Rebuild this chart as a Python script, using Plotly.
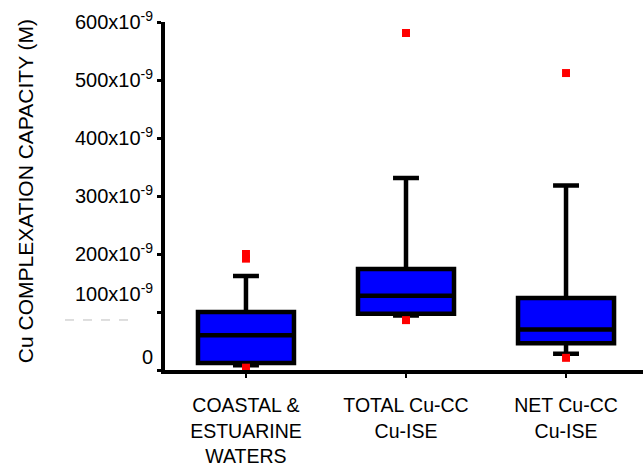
import plotly.graph_objects as go

categories = ["COASTAL &<br>ESTUARINE<br>WATERS", "TOTAL Cu-CC<br>Cu-ISE", "NET Cu-CC<br>Cu-ISE"]
x_pos = [1, 2, 3]
q1 = [12, 97, 46]
median = [60, 128, 70]
q3 = [100, 174, 124]
lower_fence = [8, 94, 28]
upper_fence = [162, 331, 318]
outlier_x = [1, 1, 1, 2, 2, 3, 3]
outlier_y = [192, 200, 4, 581, 86, 512, 21]
ytick_vals = [0, 100, 200, 300, 400, 500, 600]
ytick_text = ["", "", "200x10<sup>-9</sup>", "300x10<sup>-9</sup>", "400x10<sup>-9</sup>",
              "500x10<sup>-9</sup>", "600x10<sup>-9</sup>"]
shifted_labels = [("100x10<sup>-9</sup>", 133), ("0", 22)]

FONT = "Liberation Sans, Arial, sans-serif"

fig = go.Figure()
fig.add_trace(go.Box(
    x=x_pos, q1=q1, median=median, q3=q3,
    lowerfence=lower_fence, upperfence=upper_fence,
    width=0.6, whiskerwidth=0.27,
    fillcolor="rgb(0,0,255)",
    line=dict(color="black", width=4.5),
    boxpoints=False, showlegend=False, hoverinfo="skip",
))
fig.add_trace(go.Scatter(
    x=outlier_x, y=outlier_y, mode="markers",
    marker=dict(color="red", size=8, symbol="square"),
    showlegend=False, hoverinfo="skip",
))

for txt, yv in shifted_labels:
    fig.add_annotation(text=txt, x=0, xref="paper", y=yv, yref="y",
                       xanchor="right", yanchor="middle", xshift=-10, showarrow=False,
                       font=dict(family=FONT, size=20, color="black"))

fig.add_annotation(text="Cu COMPLEXATION CAPACITY (M)", textangle=-90,
                   x=0, xref="paper", xshift=-140, y=0.514, yref="paper",
                   xanchor="center", yanchor="middle", showarrow=False,
                   font=dict(family=FONT, size=21, color="black"))

fig.add_shape(type="line", xref="paper", yref="paper",
              x0=(65 - 165) / 478, x1=(132 - 165) / 478, y0=0.1437, y1=0.1437,
              line=dict(color="rgb(190,190,190)", width=1, dash="dash"))

fig.update_layout(
    width=643, height=467,
    margin=dict(l=165, r=0, t=22, b=97),
    plot_bgcolor="white", paper_bgcolor="white",
    font=dict(family=FONT, size=20, color="black"),
    xaxis=dict(range=[0.494, 3.481], tickvals=x_pos, ticktext=categories,
               showline=True, linecolor="black", linewidth=4,
               ticks="outside", ticklen=4, tickwidth=2, tickcolor="black",
               showgrid=False, zeroline=False, fixedrange=True,
               ticklabelstandoff=11,
               tickfont=dict(family=FONT, size=19.5)),
    yaxis=dict(range=[0, 600], tickvals=ytick_vals, ticktext=ytick_text,
               showline=True, linecolor="black", linewidth=4,
               ticks="outside", ticklen=4, tickwidth=3, tickcolor="black",
               showgrid=False, zeroline=False, fixedrange=True,
               tickfont=dict(family=FONT, size=20)),
)

fig.write_html("out.html")
